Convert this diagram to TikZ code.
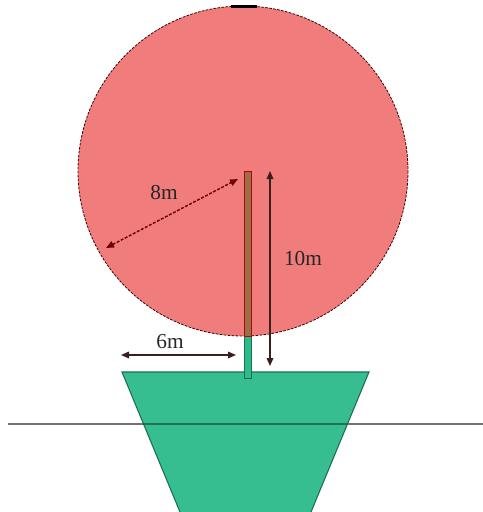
\documentclass[tikz,border=0pt]{standalone}
\usepackage{fontspec}
\setmainfont{Liberation Serif}
\usetikzlibrary{arrows.meta}
\definecolor{crownred}{RGB}{240,124,124}
\definecolor{potgreen}{RGB}{44,187,138}
\definecolor{potedge}{RGB}{30,110,80}
\definecolor{trunk}{RGB}{150,112,72}
\definecolor{arrowdark}{RGB}{60,30,30}
\tikzset{
  dim/.style={draw=arrowdark, line width=0.9pt, {Triangle[length=6pt,width=5pt]}-{Triangle[length=6pt,width=5pt]}},
  lbl/.style={font=\fontsize{16pt}{18pt}\selectfont, inner sep=0pt, text=black!85}
}
\begin{document}
\begin{tikzpicture}[x=0.75pt,y=-0.75pt]
\useasboundingbox (0,0) rectangle (483,512);
% crown
\fill[crownred] (243,171) circle (165);
\draw[black!60!red!60!black, line width=0.6pt, dash pattern=on 2pt off 1pt] (243,171) circle (165);
\draw[black, line width=1.8pt] (231,6.3) -- (257,6.3);
% ground line
\draw[black!55, line width=1pt] (8,424) -- (483,424);
% pot
\fill[potgreen, fill opacity=0.95] (122,372) -- (369,372) -- (311,512) -- (180,512) -- cycle;
\draw[potedge, line width=0.8pt] (180,512) -- (122,372) -- (369,372) -- (311,512);
\draw[potedge!80!black, line width=1pt, opacity=0.7] (143,424) -- (347,424);
% trunk
\draw[potedge, fill=potgreen, line width=0.7pt] (244,336) rectangle (251,378);
\draw[red!75!black, fill=trunk, line width=0.7pt] (244,171) rectangle (251,336);
% named points
\coordinate (tenTop) at (270,171);
\coordinate (tenBot) at (270,366);
\coordinate (eightA) at (106,248);
\coordinate (eightB) at (238,179);
\coordinate (sixA) at (121,355);
\coordinate (sixB) at (236,355);
% dimensions
\draw[dim] (tenBot) -- (tenTop);
\draw[dim, line width=1.1pt, dash pattern=on 2.2pt off 1.2pt, draw=red!45!black] (eightA) -- (eightB);
\draw[dim] (sixA) -- (sixB);
\node[lbl] (l10) at (303,259) {10m};
\node[lbl] (l8) at (164,193) {8m};
\node[lbl] (l6) at (170,342) {6m};
\end{tikzpicture}
\end{document}
